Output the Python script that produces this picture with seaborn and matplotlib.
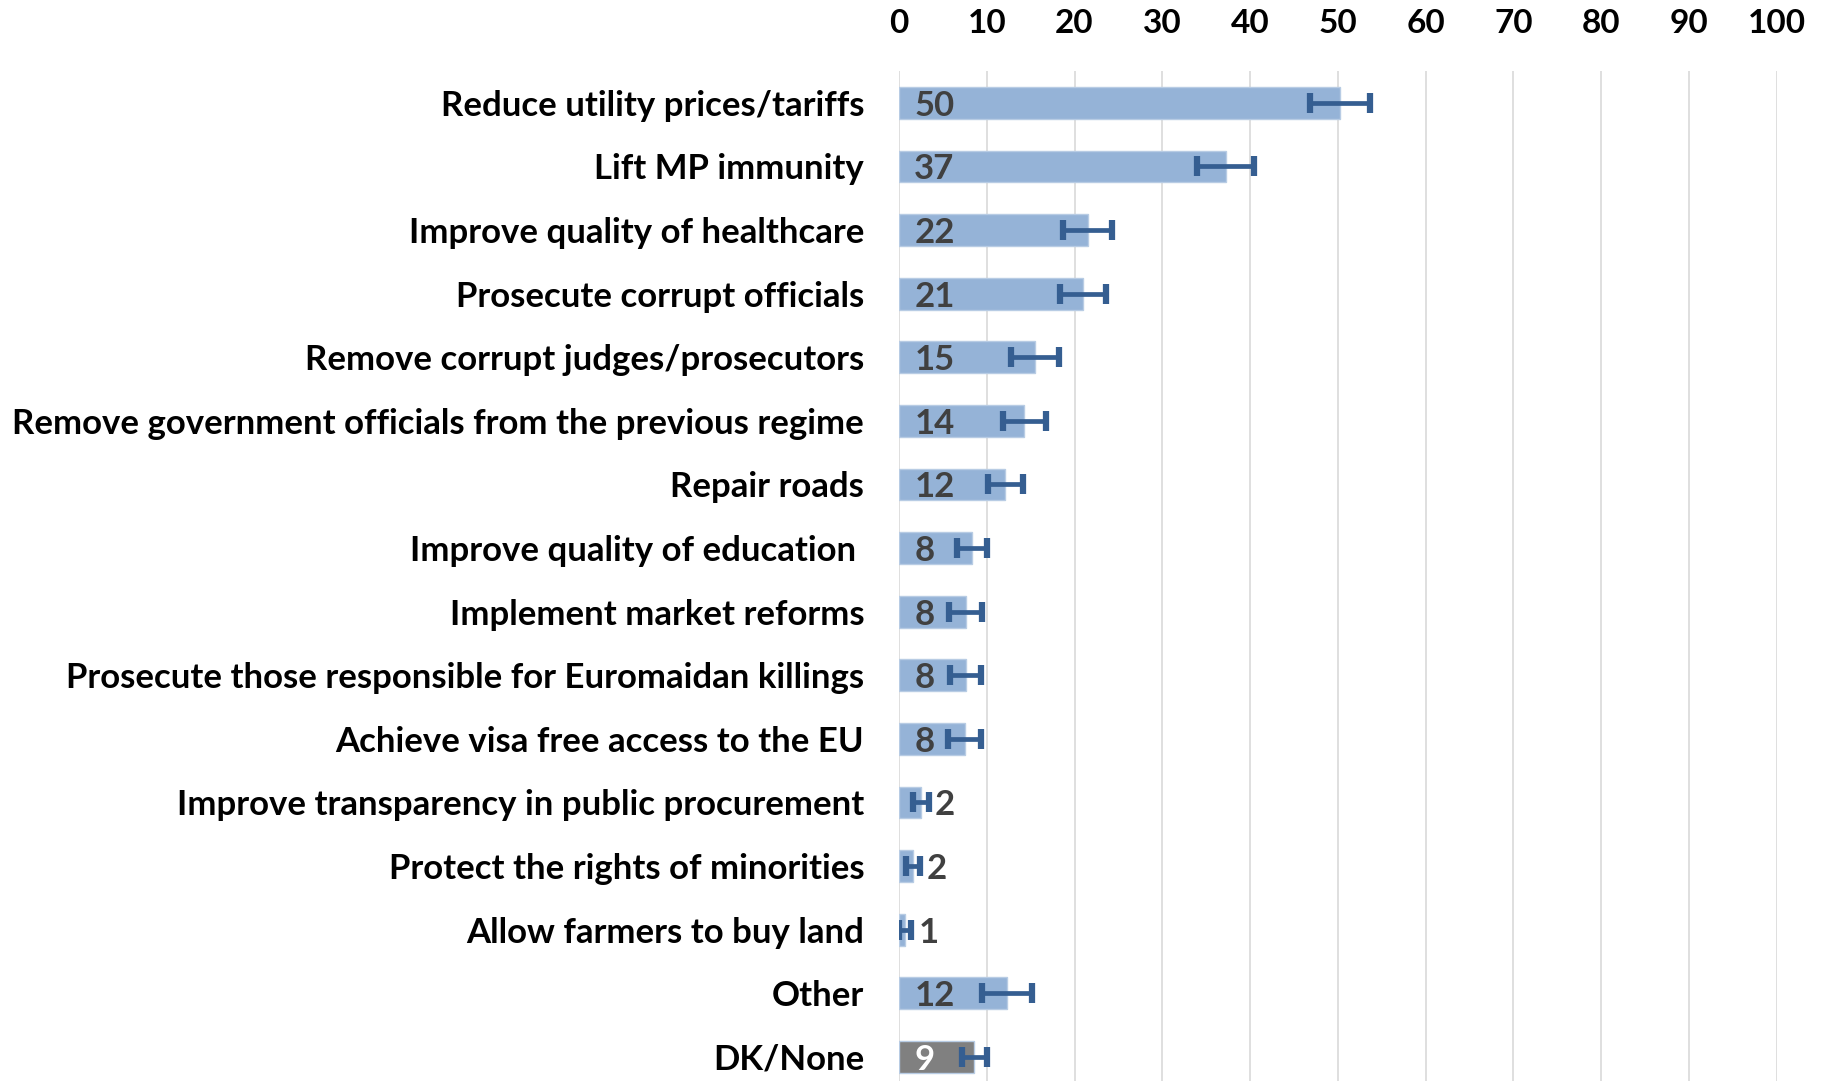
import numpy as np
import pandas as pd
import matplotlib.pyplot as plt
import seaborn as sns

categories = [
    "Reduce utility prices/tariffs",
    "Lift MP immunity",
    "Improve quality of healthcare",
    "Prosecute corrupt officials",
    "Remove corrupt judges/prosecutors",
    "Remove government officials from the previous regime",
    "Repair roads",
    "Improve quality of education ",
    "Implement market reforms",
    "Prosecute those responsible for Euromaidan killings",
    "Achieve visa free access to the EU",
    "Improve transparency in public procurement",
    "Protect the rights of minorities",
    "Allow farmers to buy land",
    "Other",
    "DK/None",
]
values = [50.2, 37.2, 21.5, 21.0, 15.5, 14.3, 12.1, 8.3, 7.6, 7.6, 7.5, 2.5, 1.6, 0.7, 12.3, 8.6]
labels = [50, 37, 22, 21, 15, 14, 12, 8, 8, 8, 8, 2, 2, 1, 12, 9]
errors = [3.4, 3.2, 2.8, 2.6, 2.7, 2.5, 2.0, 1.7, 1.9, 1.8, 1.9, 0.95, 0.8, 0.7, 2.8, 1.4]
ticks = list(range(0, 101, 10))

df = pd.DataFrame({"category": categories, "value": values})
colors = ["#95B3D7"] * (len(categories) - 1) + ["#808080"]

sns.set_theme(style="white")
plt.rcParams["font.family"] = ["Lato", "DejaVu Sans"]

fig = plt.figure(figsize=(18.29, 10.81), dpi=100)
ax = fig.add_axes([0.4915, 0.0, 0.480, 0.9343])

sns.barplot(data=df, x="value", y="category", hue="category", palette=colors,
            orient="h", width=0.5, legend=False, ax=ax, saturation=1,
            edgecolor="#B8CCE4", linewidth=1)

ypos = np.arange(len(categories))
ax.errorbar(values, ypos, xerr=errors, fmt="none", ecolor="#355E91",
            elinewidth=3.4, capsize=7.5, capthick=4.5, zorder=3)

for y, v, lab in zip(ypos, values, labels):
    col = "white" if categories[y] == "DK/None" else "#404040"
    if v < 3:
        ax.annotate(str(lab), (v, y), xytext=(10, 0), textcoords="offset points",
                    ha="left", va="center_baseline", fontsize=25, fontweight="bold", color="#404040")
    else:
        ax.annotate(str(lab), (0, y), xytext=(11, 0), textcoords="offset points",
                    ha="left", va="center_baseline", fontsize=25, fontweight="bold", color=col, zorder=4)

ax.set_xlim(0, 100)
ax.set_ylim(15.38, -0.5)
ax.set_xticks(ticks)
ax.set_xticklabels([str(t) for t in ticks])
ax.xaxis.tick_top()
ax.tick_params(axis="x", length=0, pad=24, labelsize=24)
ax.tick_params(axis="y", length=0, pad=25, labelsize=25)
for t in ax.get_xticklabels() + ax.get_yticklabels():
    t.set_fontweight("bold")
    t.set_color("black")
ax.set_xlabel("")
ax.set_ylabel("")
ax.grid(axis="x", color="#D9D9D9", linewidth=1.2)
ax.set_axisbelow(True)
for s in ax.spines.values():
    s.set_visible(False)

fig.savefig("out.png", dpi=100)
